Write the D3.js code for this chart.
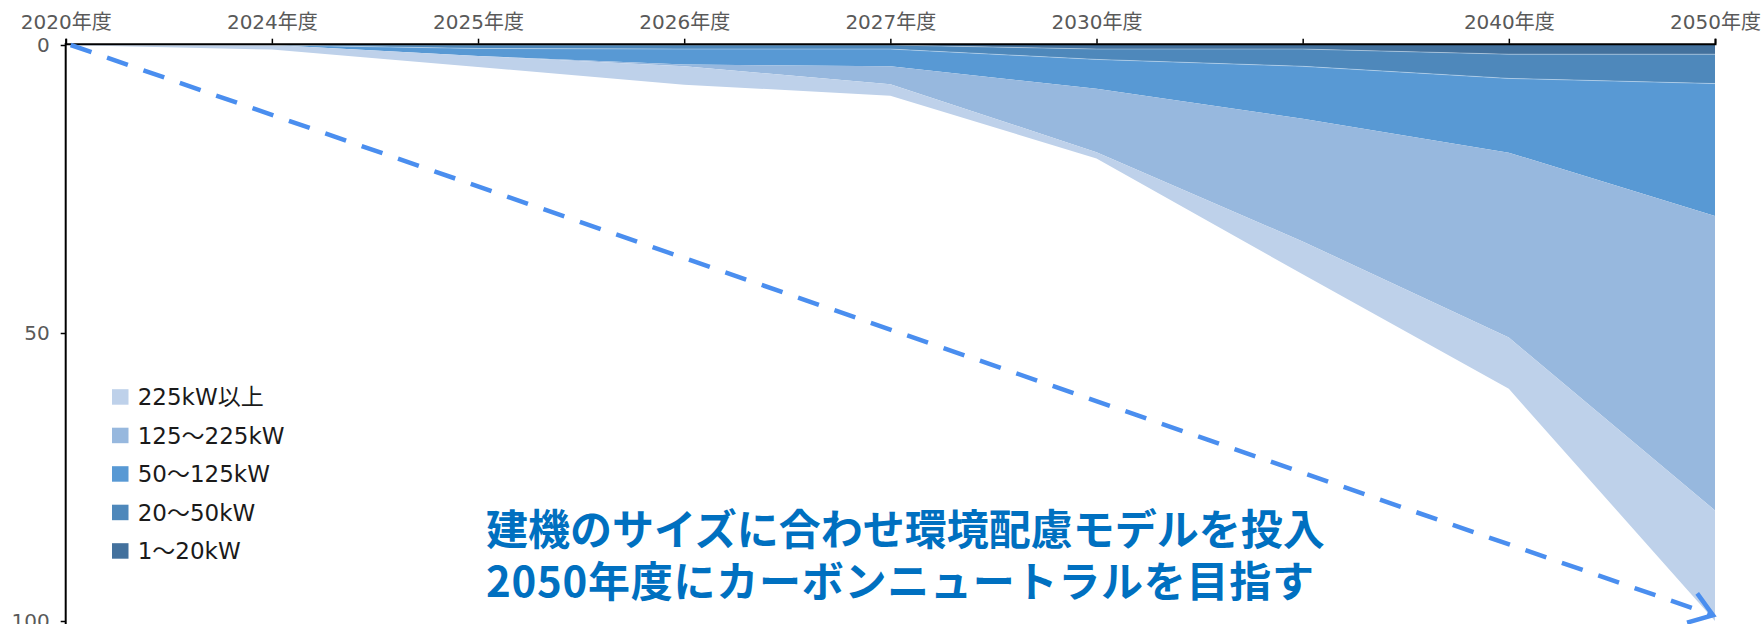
<!DOCTYPE html>
<html lang="ja">
<head>
<meta charset="utf-8">
<script src="https://cdn.jsdelivr.net/npm/d3@7"></script>
<style>
  html, body { margin: 0; padding: 0; background: #ffffff; }
  svg { display: block; }
</style>
</head>
<body>
<svg id="chart" width="1764" height="624"></svg>
<script>
// Fiscal-year labels along the top axis (one tick is left unlabelled)
const tickLabels = ["2020年度", "2024年度", "2025年度", "2026年度", "2027年度", "2030年度", "", "2040年度", "2050年度"];
const periods = d3.range(tickLabels.length);

// Share of the fleet moved to low-emission models, by machine output class (%)
const seriesNames = ["1～20kW", "20～50kW", "50～125kW", "125～225kW", "225kW以上"];
const s1to20    = [0, 0,   0,   0,   0,   0.7,  0.7,  1.6,  1.6];
const s20to50   = [0, 0,   0.6, 0.7, 0.7, 1.8,  3.0,  4.2,  5.1];
const s50to125  = [0, 0,   1.3, 2.7, 3.0, 5.1,  9.1,  12.9, 23.0];
const s125to225 = [0, 0,   0,   0.3, 3.1, 11.0, 21.3, 32.1, 51.1];
const s225plus  = [0, 0.8, 1.9, 3.2, 2.0, 1.1,  5.7,  8.9,  19.2];
const seriesColors = ["#43719d", "#4e88bb", "#5899d4", "#97b8de", "#bed1ea"];

const yTicks = [0, 50, 100];

// Target trend arrow (start and end in period index / percent)
const targetStart = [0, 0];
const targetEnd = [8, 99];

const headline = ["建機のサイズに合わせ環境配慮モデルを投入", "2050年度にカーボンニュートラルを目指す"];

// ---------------------------------------------------------------
const svg = d3.select("#chart");
const FONT = "'DejaVu Sans', 'Noto Sans CJK JP', sans-serif";
const HEAD_FONT = "'Noto Sans CJK JP', sans-serif";

const x = d3.scalePoint().domain(periods).range([65.7, 1715]);
const y = d3.scaleLinear().domain([0, 100]).range([45, 621]);

const table = periods.map(i => {
  const row = { period: i };
  row[seriesNames[0]] = s1to20[i];
  row[seriesNames[1]] = s20to50[i];
  row[seriesNames[2]] = s50to125[i];
  row[seriesNames[3]] = s125to225[i];
  row[seriesNames[4]] = s225plus[i];
  return row;
});

const stacked = d3.stack().keys(seriesNames)(table);

const area = d3.area()
  .x(d => x(d.data.period))
  .y0(d => y(d[0]))
  .y1(d => y(d[1]));

const bands = svg.append("g").attr("class", "bands");
bands.selectAll("path.band")
  .data(stacked)
  .join("path")
  .attr("class", "band")
  .attr("fill", (d, i) => seriesColors[i])
  .attr("d", area);

// faint seams along the band edges
const edge = d3.line()
  .x(d => x(d.data.period))
  .y(d => y(d[0]));
bands.selectAll("path.seam")
  .data(stacked.slice(1, 3))
  .join("path")
  .attr("class", "seam")
  .attr("fill", "none")
  .attr("stroke", "rgba(255,255,255,0.35)")
  .attr("stroke-width", 1)
  .attr("d", edge);

// Axes
const xAxis = d3.axisTop(x)
  .tickFormat(i => tickLabels[i])
  .tickSize(5)
  .tickSizeOuter(5)
  .tickPadding(10);

const gx = svg.append("g")
  .attr("transform", "translate(0,43.7)")
  .call(xAxis);
gx.select(".domain").attr("stroke", "#000").attr("stroke-width", 2);
gx.selectAll(".tick line").attr("stroke", "#000").attr("stroke-width", 1.5);
gx.selectAll(".tick text")
  .attr("fill", "#595959")
  .style("font-family", FONT)
  .style("font-size", "20px");

const yAxis = d3.axisLeft(y)
  .tickValues(yTicks)
  .tickSize(5)
  .tickSizeOuter(0)
  .tickPadding(11);

const gy = svg.append("g")
  .attr("transform", "translate(65.7,0)")
  .call(yAxis);
gy.select(".domain").attr("stroke", "#000").attr("stroke-width", 2)
  .attr("d", `M0,${y(0) - 2}V624`);
gy.selectAll(".tick line").attr("stroke", "#000").attr("stroke-width", 1.5);
gy.selectAll(".tick text")
  .attr("fill", "#595959")
  .style("font-family", FONT)
  .style("font-size", "20px");

// Target trend: dashed arrow
const p0 = [x(targetStart[0]) + 5, y(targetStart[1])];
const p1 = [x(targetEnd[0]) - 2, y(targetEnd[1])];
const arrowColor = "#4a8eef";
svg.append("line")
  .attr("x1", p0[0]).attr("y1", p0[1])
  .attr("x2", p1[0]).attr("y2", p1[1])
  .attr("stroke", arrowColor)
  .attr("stroke-width", 4.5)
  .attr("stroke-dasharray", "22 16.5");

const ang = Math.atan2(p1[1] - p0[1], p1[0] - p0[0]);
const arm = 27, spread = 35 * Math.PI / 180;
const a1 = [p1[0] - arm * Math.cos(ang - spread), p1[1] - arm * Math.sin(ang - spread)];
const a2 = [p1[0] - arm * Math.cos(ang + spread), p1[1] - arm * Math.sin(ang + spread)];
svg.append("path")
  .attr("d", `M${a1[0]},${a1[1]}L${p1[0]},${p1[1]}L${a2[0]},${a2[1]}`)
  .attr("fill", "none")
  .attr("stroke", arrowColor)
  .attr("stroke-width", 4.5)
  .attr("stroke-linejoin", "miter");

// Legend (largest class first)
const legendOrder = seriesNames.map((n, i) => ({ name: n, color: seriesColors[i] })).reverse();
const legend = svg.append("g").attr("class", "legend");
const item = legend.selectAll("g")
  .data(legendOrder)
  .join("g")
  .attr("transform", (d, i) => `translate(112,${397 + i * 38.5})`);
item.append("rect")
  .attr("x", 0).attr("y", -7.8)
  .attr("width", 16.5).attr("height", 15.5)
  .attr("fill", d => d.color);
item.append("text")
  .attr("x", 25.7)
  .attr("y", 0)
  .attr("dy", "0.36em")
  .attr("fill", "#1a1a1a")
  .style("font-family", FONT)
  .style("font-size", "23px")
  .text(d => d.name);

// Headline message
svg.append("g")
  .selectAll("text")
  .data(headline)
  .join("text")
  .attr("x", 486)
  .attr("y", (d, i) => 545 + i * 52)
  .attr("fill", "#0070c0")
  .style("font-family", HEAD_FONT)
  .style("font-weight", "700")
  .style("font-size", "42px")
  .style("paint-order", "stroke")
  .attr("stroke", "rgba(255,255,255,0.85)")
  .attr("stroke-width", 6)
  .attr("stroke-linejoin", "round")
  .text(d => d)
  .filter((d, i) => i === 1)
  .attr("textLength", 828)
  .attr("lengthAdjust", "spacing");
</script>
</body>
</html>
